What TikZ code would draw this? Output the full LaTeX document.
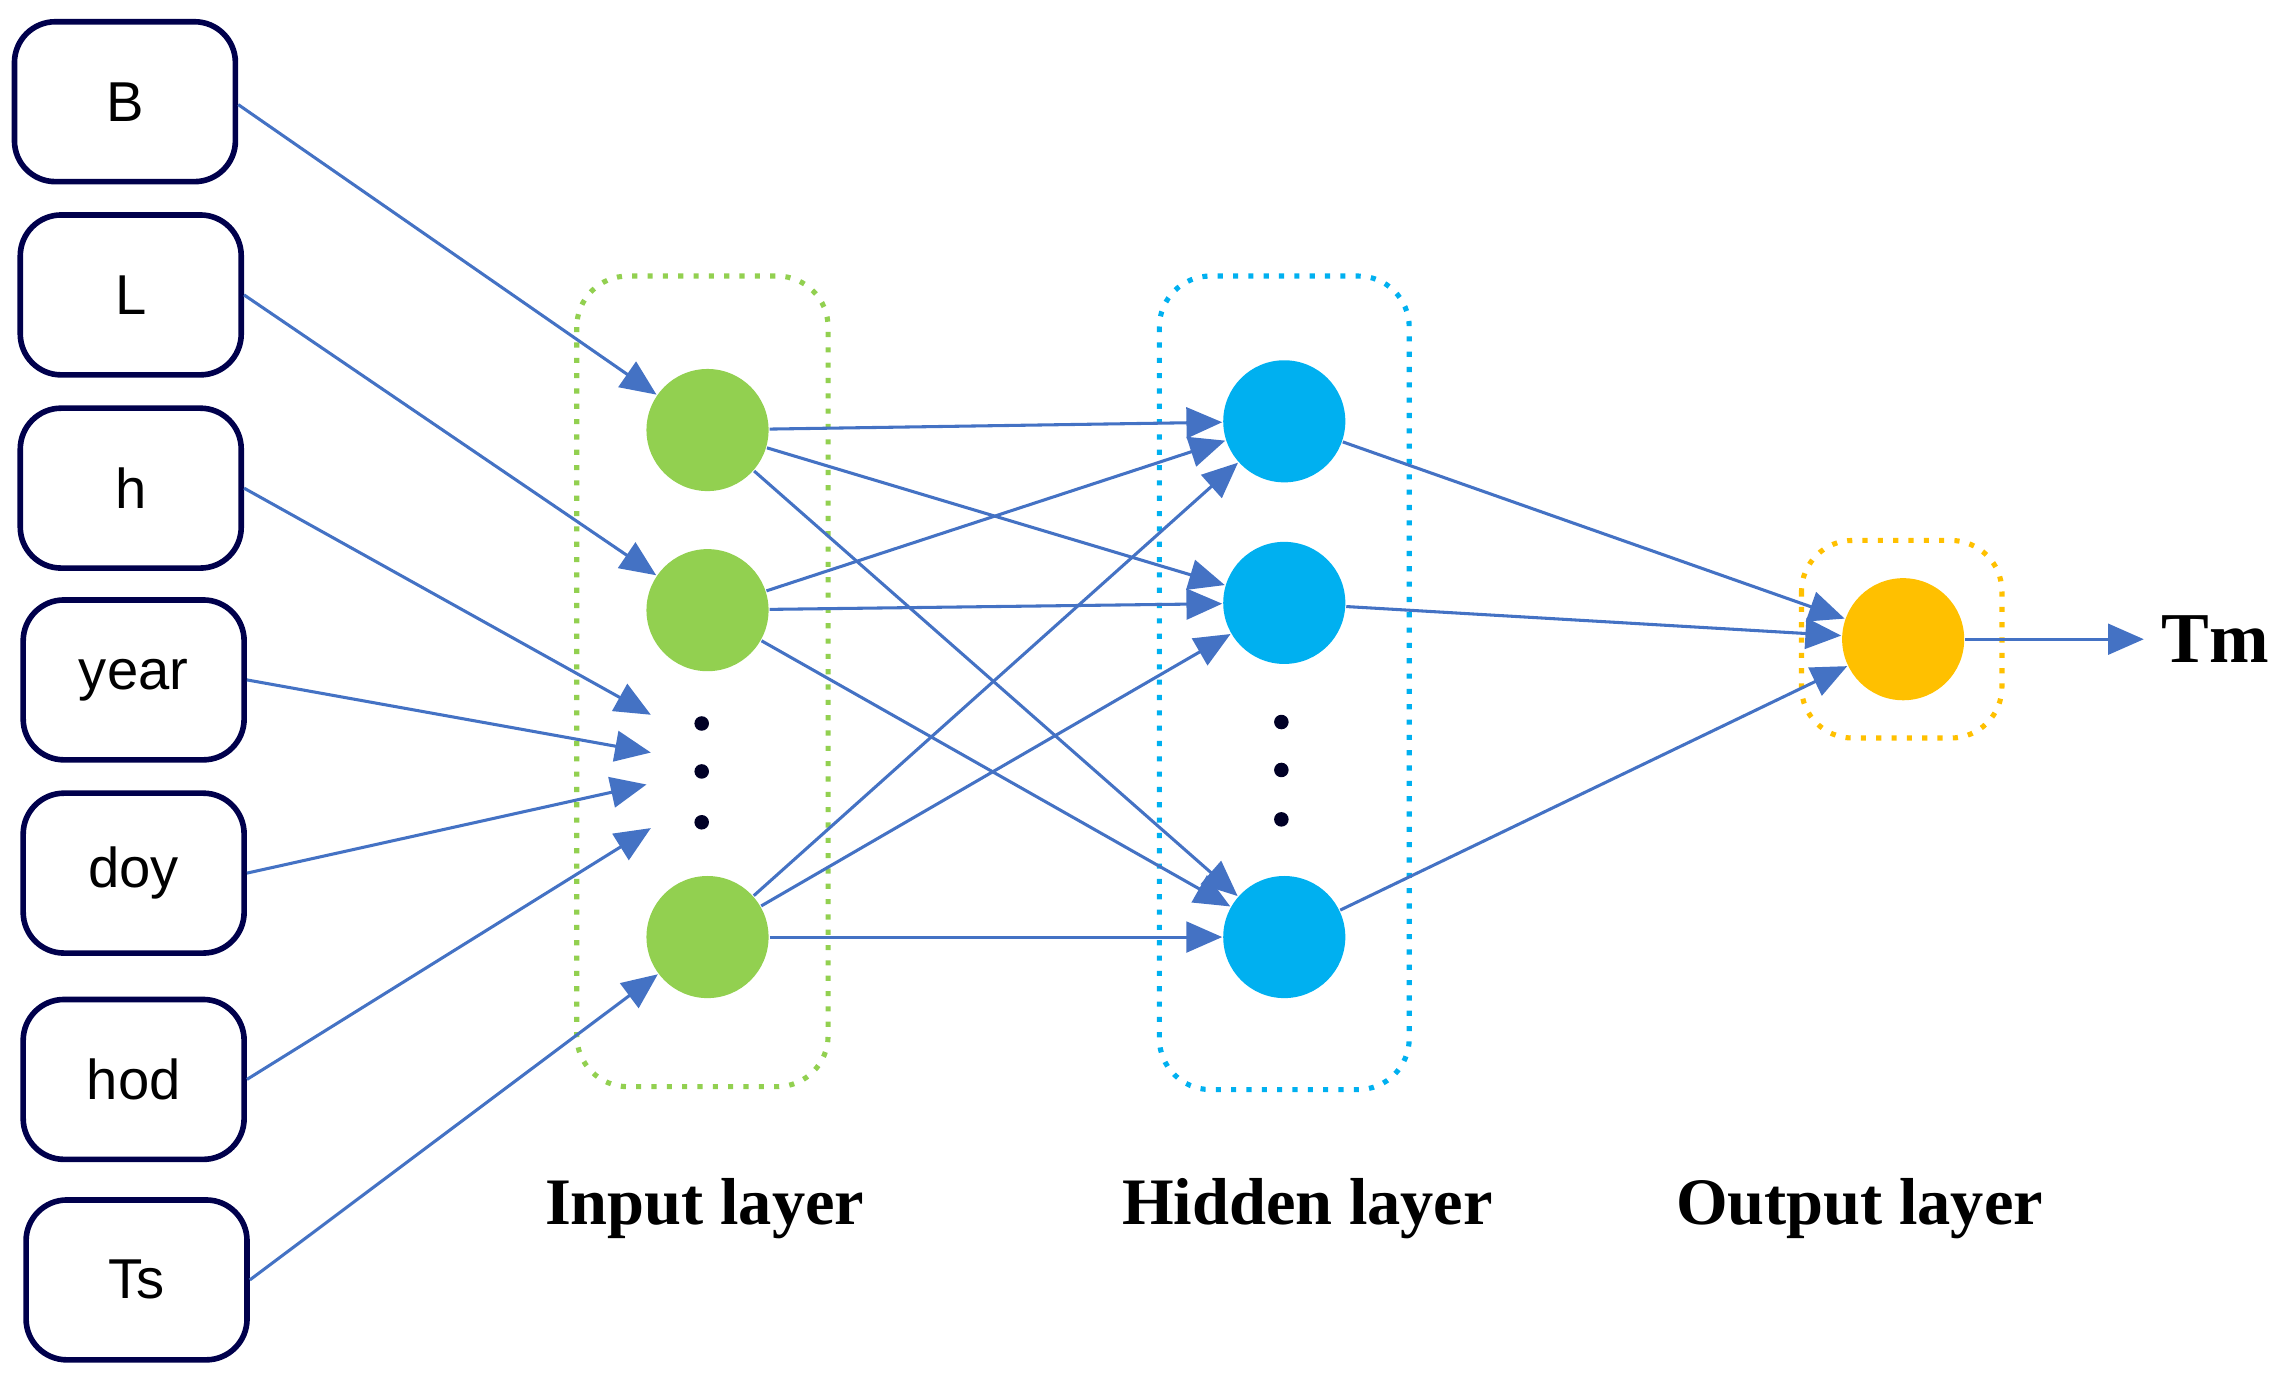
\documentclass[tikz,border=0pt]{standalone}
\usepackage{fontspec}
\setmainfont{Liberation Serif}
\newfontfamily\sansf{Liberation Sans}
\usetikzlibrary{arrows.meta}
\begin{document}
\begin{tikzpicture}[x=0.01cm,y=-0.01cm,
 inbox/.style={draw=black!75!blue,line width=1.1pt,rounded corners=8pt,minimum width=152\pgflinewidth,font=\sansf\fontsize{11}{13}\selectfont},
 neuron/.style={circle,minimum size=0.84cm,inner sep=0},
 dot/.style={circle,fill=black!85!blue,minimum size=0.1cm,inner sep=0},
 grp/.style={rounded corners=10pt,dotted,line width=1pt},
 con/.style={draw=blue!60!black!60!cyan,color={rgb,255:red,68;green,114;blue,196},line width=0.6pt,-{Triangle[length=7pt,width=6pt]}},
 lab/.style={font=\bfseries\fontsize{13}{15}\selectfont}]
\useasboundingbox (0,0) rectangle (1568,952);
\colorlet{lc}{blue}
\definecolor{ln}{RGB}{68,114,196}
\tikzset{con/.style={draw=ln,line width=0.6pt,-{Triangle[length=7pt,width=6pt]}}}
% input boxes
\foreach \n/\t/\x/\y in {b/B/86/70,l/L/90/203,h/h/90/336,y/year/92/468,d/doy/92/601,o/hod/92/743,t/Ts/94/881}
 \node[draw=black!70!blue,line width=1.1pt,rounded corners=8pt,minimum width=1.52cm,minimum height=1.1cm,font=\sansf\fontsize{11}{13}\selectfont] (\n) at (\x,\y) {\t};
% group boxes
\draw[grp,draw={rgb,255:red,146;green,208;blue,80}] (397,190) rectangle (570,748);
\draw[grp,draw={rgb,255:red,0;green,176;blue,240}] (798,190) rectangle (970,750);
\draw[grp,draw={rgb,255:red,255;green,192;blue,0}] (1240,372) rectangle (1378,508);
% neurons
\definecolor{gr}{RGB}{146,208,80}\definecolor{bl}{RGB}{0,176,240}\definecolor{og}{RGB}{255,192,0}
\node[neuron,fill=gr] (g1) at (487,296) {};
\node[neuron,fill=gr] (g2) at (487,420) {};
\node[neuron,fill=gr] (g3) at (487,645) {};
\node[neuron,fill=bl] (h1) at (884,290) {};
\node[neuron,fill=bl] (h2) at (884,415) {};
\node[neuron,fill=bl] (h3) at (884,645) {};
\node[neuron,fill=og] (o1) at (1310,440) {};
\foreach \i/\x/\y in {a/483/498,b/483/531,c/483/566,d/882/497,e/882/530,f/882/564}
 \node[dot] (dot\i) at (\x,\y) {};
% input targets
\coordinate (th) at (448,492);
\coordinate (ty) at (448,518);
\coordinate (td) at (445,540);
\coordinate (to) at (448,570);
\draw[con] (b.east) ++(0,2) -- (g1);
\draw[con] (l.east) -- (g2);
\draw[con] (h.east) -- (th);
\draw[con] (y.east) -- (ty);
\draw[con] (d.east) -- (td);
\draw[con] (o.east) -- (to);
\draw[con] (t.east) -- (g3);
\foreach \a in {g1,g2,g3}\foreach \b in {h1,h2,h3} \draw[con] (\a) -- (\b);
\foreach \b in {h1,h2,h3} \draw[con] (\b) -- (o1);
\node[font=\bfseries\fontsize{14}{16}\selectfont] (tm) at (1525,440) {Tm};
\draw[con] (o1) -- (tm);
\node[lab] (l1) at (485,832) {Input layer};
\node[lab] (l2) at (900,832) {Hidden layer};
\node[lab] (l3) at (1280,832) {Output layer};
\end{tikzpicture}
\end{document}
